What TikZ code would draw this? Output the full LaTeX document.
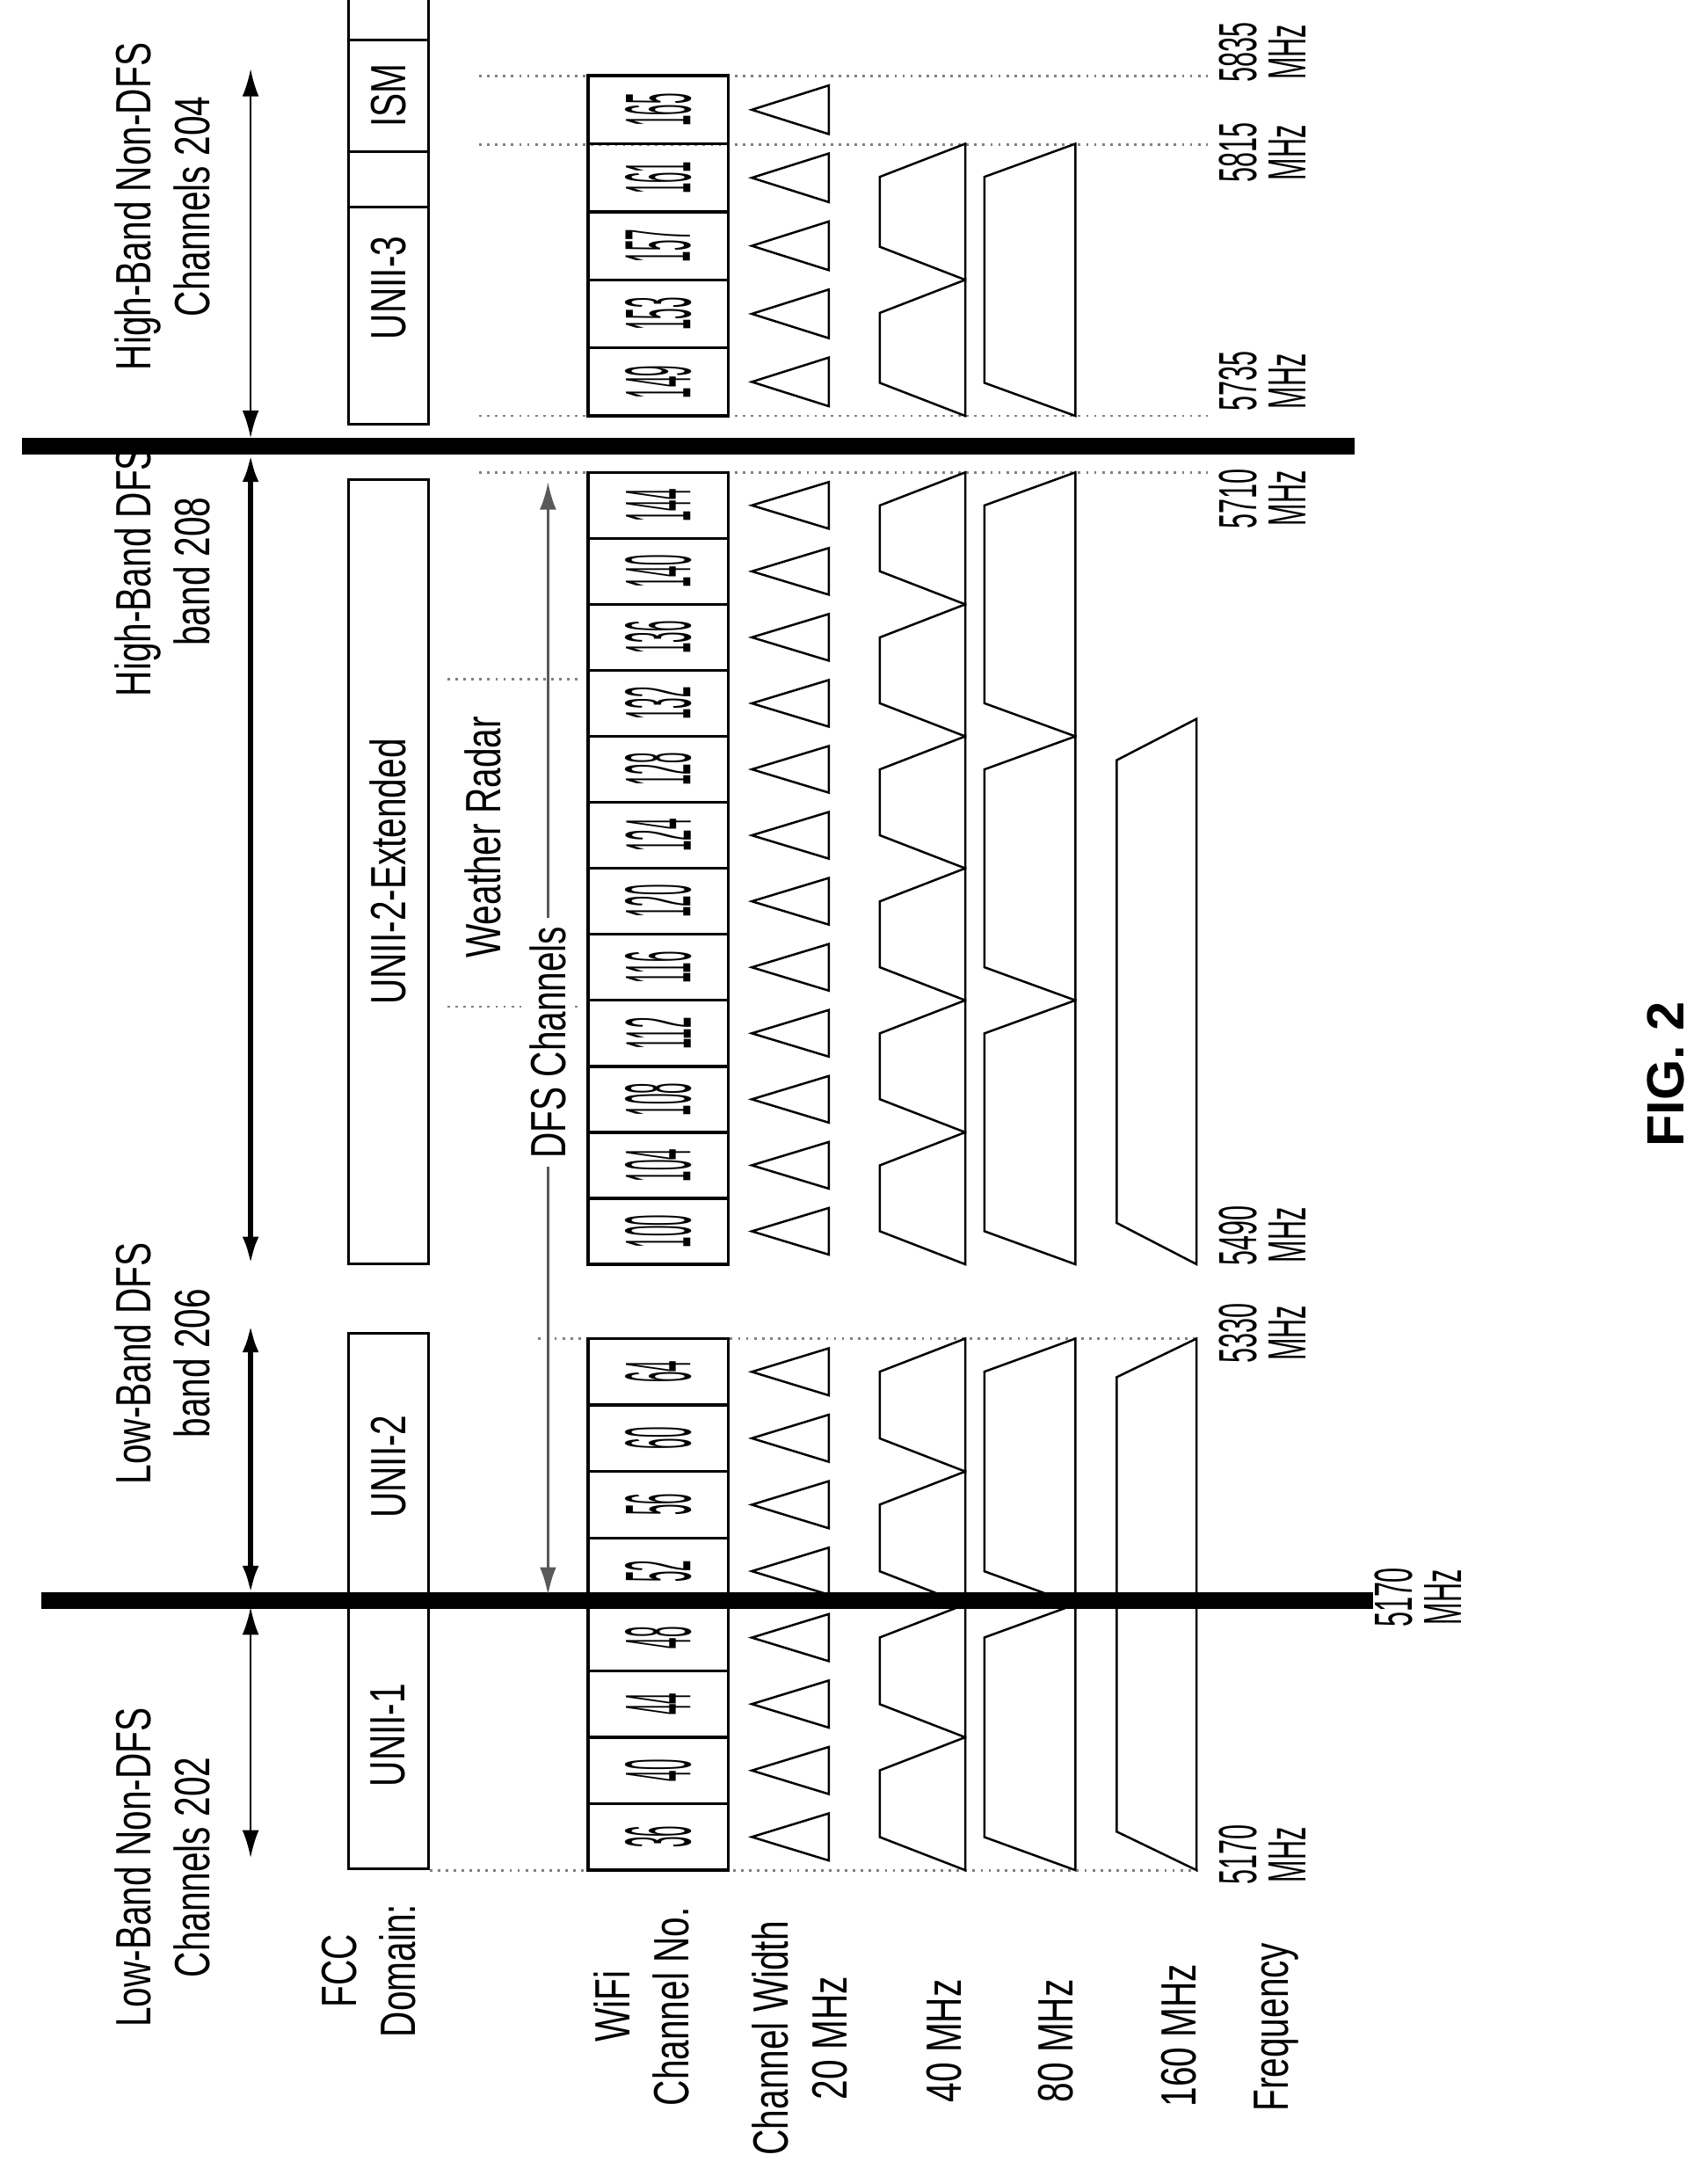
\documentclass[tikz,border=0pt]{standalone}
\usepackage{fontspec}
\setmainfont{Liberation Sans}
\newfontfamily\labf{Liberation Sans}[FakeStretch=0.72]
\newfontfamily\chnf{Liberation Sans}[FakeStretch=0.21]
\newfontfamily\frqf{Liberation Sans}[FakeStretch=0.5]
\usetikzlibrary{arrows.meta}
\newcommand\chgroup[3]{%
 \foreach \n [count=\i from 0] in {#3} {
  \pgfmathsetmacro\yt{#1+#2*\i}
  \pgfmathsetmacro\yb{\yt+#2}
  \pgfmathsetmacro\ym{\yt+#2/2}
  \draw[line width=1.1pt] (427,\yt) rectangle (529,\yb);
  \node[chn] (ch\n) at (478,\ym) {\n};
  \draw[line width=0.8pt] (546,\ym) -- (602,{\yt+7}) -- (602,{\yb-7}) -- cycle;
 }}
\newcommand\trap[5]{\draw[line width=0.8pt] ({#2},{#3}) -- ({#1},{#3+#5}) -- ({#1},{#4-#5}) -- ({#2},{#4}) -- cycle;}
\begin{document}
\begin{tikzpicture}[x=0.5pt,y=-0.5pt,
 lab/.style={font=\labf\fontsize{18}{21.5}\selectfont, align=center, rotate=90, inner sep=1pt},
 chn/.style={font=\chnf\fontsize{34}{34}\selectfont, rotate=90, inner sep=0},
 frq/.style={font=\frqf\fontsize{19.5}{18}\selectfont, align=center, rotate=90, inner sep=0},
 dot/.style={gray, dotted, line width=0.9pt},
 barrow/.style={{Latex[length=10pt,width=6pt]}-{Latex[length=10pt,width=6pt]}},
 fcc/.style={draw, line width=1pt}]
\path[use as bounding box] (0,0) rectangle (1240,1575);
% dotted guides
\draw[dot] (348,55) -- (877,55);
\draw[dot] (348,105) -- (877,105);
\draw[dot] (348,302) -- (877,302);
\draw[dot] (348,343) -- (877,343);
\draw[dot] (325,493) -- (420,493);
\draw[dot] (325,731) -- (420,731);
\draw[dot] (391,972) -- (870,972);
\draw[dot] (312,1358) -- (870,1358);
% thick band lines
\coordinate (t1a) at (16,324); \coordinate (t1b) at (984,324);
\coordinate (t2a) at (30,1162); \coordinate (t2b) at (997,1162);
% channels
\chgroup{55}{49.4}{165,161,157,153,149}
\chgroup{343}{47.92}{144,140,136,132,128,124,120,116,112,108,104,100}
\chgroup{972}{48.25}{64,60,56,52,48,44,40,36}
% 40 MHz
\foreach \k in {1,3} {\trap{639}{701}{55+49.4*\k}{55+49.4*(\k+2)}{24}}
\foreach \k in {0,2,...,10} {\trap{639}{701}{343+47.92*\k}{343+47.92*(\k+2)}{24}}
\foreach \k in {0,2,4,6} {\trap{639}{701}{972+48.25*\k}{972+48.25*(\k+2)}{24}}
% 80 MHz
\trap{715}{781}{55+49.4}{55+49.4*5}{24}
\foreach \k in {0,4,8} {\trap{715}{781}{343+47.92*\k}{343+47.92*(\k+4)}{24}}
\foreach \k in {0,4} {\trap{715}{781}{972+48.25*\k}{972+48.25*(\k+4)}{24}}
% 160 MHz
\trap{811}{869}{522}{918}{30}
\trap{811}{869}{972}{1358}{28}
% thick lines on top
\draw[line width=6pt] (t1a) -- (t1b);
\draw[line width=6pt] (t2a) -- (t2b);
% band arrows
\coordinate (a1t) at (182,50); \coordinate (a1b) at (182,318);
\coordinate (a2t) at (182,330); \coordinate (a2b) at (182,918);
\coordinate (a3t) at (182,962); \coordinate (a3b) at (182,1157);
\coordinate (a4t) at (182,1167); \coordinate (a4b) at (182,1349);
\draw[barrow, line width=0.8pt] (a1t) -- (a1b);
\draw[barrow, line width=1.8pt] (a2t) -- (a2b);
\draw[barrow, line width=1.8pt] (a3t) -- (a3b);
\draw[barrow, line width=0.8pt] (a4t) -- (a4b);
% DFS arrow
\coordinate (d1) at (398,350); \coordinate (d2) at (398,1158);
\draw[barrow, gray!70!black, line width=1pt] (d1) -- (d2);
\node[lab, fill=white, inner sep=3pt] (dfs) at (398,757) {DFS Channels};
\node[lab] (wr) at (351,608) {Weather Radar};
% band labels
\node[lab] (b204) at (118,150) {High-Band Non-DFS\\Channels 204};
\node[lab] (b208) at (118,415) {High-Band DFS\\band 208};
\node[lab] (b206) at (118,990) {Low-Band DFS\\band 206};
\node[lab] (b202) at (118,1356) {Low-Band Non-DFS\\Channels 202};
% FCC boxes
\node[fcc, minimum width=81pt, minimum height=29pt, lab] (ism) at (282,69.5) {};
\node[lab] at (ism) {ISM};
\draw[fcc] (253,29) rectangle (311,110);
\draw[fcc] (253,110) rectangle (311,308);
\node[lab] (u3) at (282,209) {UNII-3};
\draw[fcc] (253,348) rectangle (311,918);
\node[lab] (u2e) at (282,633) {UNII-2-Extended};
\draw[fcc] (253,968) rectangle (311,1162);
\node[lab] (u2) at (282,1065) {UNII-2};
\draw[fcc] (253,1162) rectangle (311,1357);
\node[lab] (u1) at (282,1260) {UNII-1};
% row labels
\node[lab] (fccl) at (268,1431) {FCC\\Domain:};
\node[lab] (wifi) at (466,1457) {WiFi\\Channel No.};
\node[lab] (cw) at (581,1480) {Channel Width\\20 MHz};
\node[lab] (w40) at (686,1482) {40 MHz};
\node[lab] (w80) at (767,1482) {80 MHz};
\node[lab] (w160) at (856,1478) {160 MHz};
\node[lab] (freq) at (927,1472) {Frequency};
% frequency labels
\node[frq] (f5835) at (917,38) {5835\\MHz};
\node[frq] (f5815) at (917,111) {5815\\MHz};
\node[frq] (f5735) at (917,277) {5735\\MHz};
\node[frq] (f5710) at (917,362) {5710\\MHz};
\node[frq] (f5490) at (917,897) {5490\\MHz};
\node[frq] (f5330) at (917,968) {5330\\MHz};
\node[frq] (f5170) at (917,1347) {5170\\MHz};
\node[frq] (f5170b) at (1030,1160) {5170\\MHz};
\node[rotate=90, font=\bfseries\fontsize{19}{19}\selectfont] (fig) at (1210,780) {FIG. 2};
\end{tikzpicture}
\end{document}
